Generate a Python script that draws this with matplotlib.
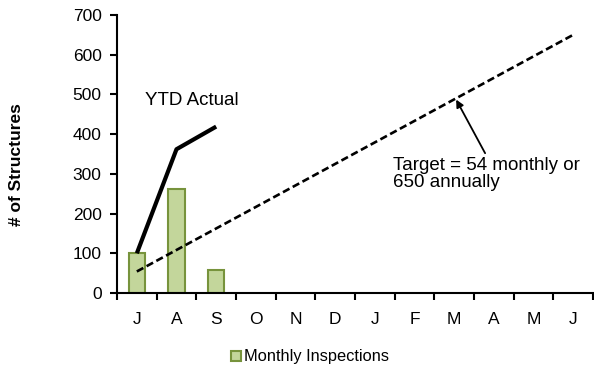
import matplotlib
matplotlib.use("Agg")
import matplotlib.pyplot as plt
import numpy as np

months = ["J", "A", "S", "O", "N", "D", "J", "F", "M", "A", "M", "J"]
monthly = [100, 262, 57]
ytd = [100, 362, 419]
target = [54.17 * (i + 1) for i in range(12)]

plt.rcParams['font.family'] = ['Liberation Sans', 'DejaVu Sans']

W, H = 594, 369
fig = plt.figure(figsize=(W / 100, H / 100), dpi=100)
ax = fig.add_axes([117 / W, 1 - 293 / H, (593 - 117) / W, (293 - 15) / H])

x = np.arange(12)
ax.bar(x[:len(monthly)], monthly, width=0.42, color="#c3d69b", edgecolor="#77933c",
       linewidth=1.5, label="Monthly Inspections", zorder=2)
ax.plot(x[:len(ytd)], ytd, color="black", linewidth=3, zorder=3, solid_capstyle="butt")
ax.plot(x, target, color="black", linewidth=1.9, linestyle=(0, (2.8, 1.4)), zorder=3)

ax.set_xlim(-0.5, 11.5)
ax.set_ylim(0, 700)
ax.set_yticks(range(0, 701, 100))
ax.set_xticks(x)
ax.set_xticklabels(months, fontsize=12.5)
ax.set_xticks(np.arange(-0.5, 12, 1), minor=True)
ax.tick_params(axis='x', which='major', length=0, pad=14)
ax.tick_params(axis='x', which='minor', length=5, width=1.5, direction='out')
ax.tick_params(axis='y', length=5, width=1.5, labelsize=12.5, pad=6)
for s in ["top", "right"]:
    ax.spines[s].set_visible(False)
for s in ["left", "bottom"]:
    ax.spines[s].set_linewidth(1.5)

fig.text(17 / W, 1 - 165 / H, "# of Structures", fontsize=12.5, fontweight="bold",
         rotation=90, ha="center", va="center")

ax.text(0.21, 484, "YTD Actual", fontsize=13.5, ha="left", va="center")
ax.text(6.46, 300, "Target = 54 monthly or\n650 annually", fontsize=13.5, ha="left",
        va="center", linespacing=1.05)
ax.annotate("", xy=(8.05, 487), xytext=(8.78, 352),
            arrowprops=dict(arrowstyle="-|>", color="black", lw=1.3,
                            mutation_scale=11, shrinkA=0, shrinkB=0))

leg = fig.legend(loc="center", bbox_to_anchor=(310 / W, 1 - 357 / H), frameon=False,
                 fontsize=11.8, handlelength=0.6, handleheight=0.6, handletextpad=0.2)

fig.savefig("out.png", dpi=100)
